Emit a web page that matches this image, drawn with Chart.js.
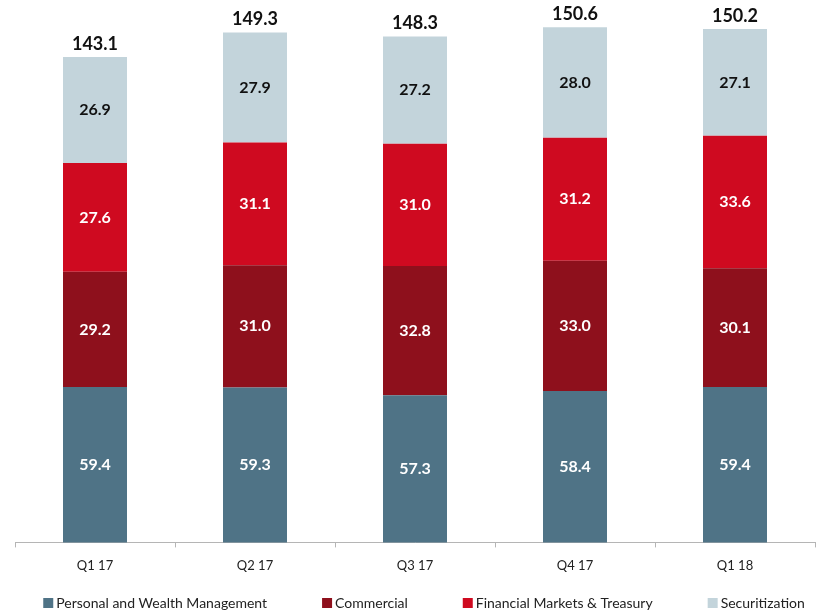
<!DOCTYPE html>
<html><head><meta charset="utf-8">
<script src="https://cdn.jsdelivr.net/npm/chart.js@4"></script>
<style>html,body{margin:0;padding:0;background:#fff}</style>
</head><body>
<canvas id="c" width="819" height="613"></canvas>
<script>
const categories = ['Q1 17', 'Q2 17', 'Q3 17', 'Q4 17', 'Q1 18'];
const seriesNames = ['Personal and Wealth Management', 'Commercial', 'Financial Markets & Treasury', 'Securitization'];
const personalWealth = [59.4, 59.3, 57.3, 58.4, 59.4];
const commercial = [29.2, 31.0, 32.8, 33.0, 30.1];
const financialMarkets = [27.6, 31.1, 31.0, 31.2, 33.6];
const securitization = [26.9, 27.9, 27.2, 28.0, 27.1];
const totals = [143.1, 149.3, 148.3, 150.6, 150.2];

const colors = ['#4F7386', '#8E101C', '#CF0A20', '#C3D4DB'];
const labelColors = ['#ffffff', '#ffffff', '#ffffff', '#111111'];
const FONT = 'Lato, "Open Sans", sans-serif';

const valueLabels = {
  id: 'valueLabels',
  afterDatasetsDraw(chart) {
    const ctx = chart.ctx;
    const area = chart.chartArea;
    ctx.save();
    ctx.textAlign = 'center';
    ctx.textBaseline = 'middle';
    chart.data.datasets.forEach((ds, di) => {
      const meta = chart.getDatasetMeta(di);
      meta.data.forEach((el, i) => {
        const top = Math.max(el.y, area.top);
        const bottom = Math.min(el.base, area.bottom);
        ctx.font = 'bold 16px ' + FONT;
        ctx.fillStyle = labelColors[di];
        ctx.fillText(ds.data[i].toFixed(1), el.x, (top + bottom) / 2);
      });
    });
    const lastMeta = chart.getDatasetMeta(chart.data.datasets.length - 1);
    lastMeta.data.forEach((el, i) => {
      ctx.font = 'bold 18px ' + FONT;
      ctx.fillStyle = '#111111';
      ctx.fillText(totals[i].toFixed(1), el.x, el.y - 13);
    });
    ctx.restore();
  }
};

const customLegend = {
  id: 'customLegend',
  afterDraw(chart) {
    const ctx = chart.ctx;
    ctx.save();
    ctx.font = '14px ' + FONT;
    ctx.textBaseline = 'middle';
    ctx.textAlign = 'left';
    const box = 10, gap = 3, spacing = 55;
    const widths = chart.data.datasets.map(ds => box + gap + ctx.measureText(ds.label).width);
    const total = widths.reduce((a, b) => a + b, 0) + spacing * (widths.length - 1);
    let x = 424 - total / 2;
    const y = 603;
    chart.data.datasets.forEach((ds, i) => {
      ctx.fillStyle = ds.backgroundColor;
      ctx.fillRect(x, y - box / 2, box, box);
      ctx.fillStyle = '#222222';
      ctx.fillText(ds.label, x + box + gap, y + 0.5);
      x += widths[i] + spacing;
    });
    ctx.restore();
  }
};

const seriesData = [personalWealth, commercial, financialMarkets, securitization];

new Chart(document.getElementById('c'), {
  type: 'bar',
  data: {
    labels: categories,
    datasets: seriesNames.map((name, i) => ({
      label: name,
      data: seriesData[i],
      backgroundColor: colors[i],
      borderWidth: 0,
      categoryPercentage: 1.0,
      barPercentage: 0.4
    }))
  },
  options: {
    responsive: false,
    devicePixelRatio: 1,
    animation: false,
    layout: { padding: { left: 15, right: 4, top: 10, bottom: 28 } },
    plugins: {
      legend: { display: false },
      tooltip: { enabled: false }
    },
    scales: {
      x: {
        stacked: true,
        grid: { display: true, offset: true, drawOnChartArea: false, tickLength: 5, color: '#b5b5b5' },
        border: { display: true, color: '#b5b5b5', width: 1 },
        ticks: { color: '#222222', font: { family: FONT, size: 13 }, padding: 11 }
      },
      y: {
        stacked: true,
        display: false,
        min: 20,
        max: 155
      }
    }
  },
  plugins: [valueLabels, customLegend]
});
</script>
</body></html>
